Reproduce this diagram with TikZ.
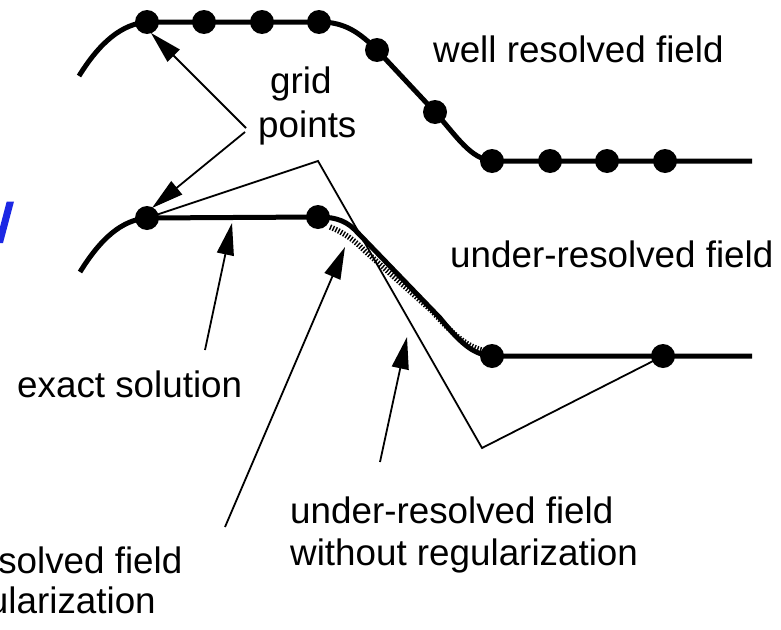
\documentclass[tikz,border=0pt]{standalone}
\usepackage{fontspec}
\setmainfont{Liberation Sans}
\usetikzlibrary{arrows.meta}
\definecolor{titleblue}{RGB}{28,40,228}
\begin{document}
\begin{tikzpicture}[x=1pt,y=-1pt,
  dot/.style={circle,fill=black,inner sep=0pt,minimum size=24pt},
  field/.style={line width=5pt,line join=round},
  thinline/.style={line width=1.8pt,line join=miter},
  hatched/.style={line width=5.5pt,dash pattern=on 1.4pt off 1.6pt},
  arr/.style={line width=1.8pt,-{Triangle[length=32pt,width=17pt]}},
  lbl/.style={inner sep=0pt,anchor=base west,font=\fontsize{36.8}{44}\selectfont}]
\useasboundingbox (0,0) rectangle (781,629);
\clip (0,0) rectangle (781,629);

% clipped blue glyph at the left edge
\fill[titleblue] (6.7,201.5) -- (14,201.5) -- (3,243) -- (0,243) -- (0,227) -- cycle;

% well resolved field
\draw[field] (79,76) .. controls (100,42) and (122,24) .. (147,22) -- (320,22)
  .. controls (345,22) and (360,33) .. (377,50) -- (435,112)
  .. controls (458,138) and (470,158) .. (492,161) -- (752,161);
\foreach \n/\x/\y in {t1/147/22,t2/204/22,t3/262/22,t4/319/22,t5/377/50,t6/435/112,
                      t7/492/161,t8/550/161,t9/607/161,t10/665/161}
  \node[dot] (\n) at (\x,\y) {};

% under-resolved field: thin polyline without regularization
\coordinate (p2) at (318,161);
\coordinate (p3) at (482,448);

% regularized (hatched) curve
\draw[hatched] (330,227) .. controls (345,233) and (355,241) .. (365,251) -- (432,311)
  .. controls (450,331) and (465,346) .. (482,350);
% under-resolved field, exact curve
\draw[field] (80,272) .. controls (101,238) and (122,220) .. (147,218) -- (318,217)
  .. controls (338,217) and (348,222) .. (358,233) -- (440,318)
  .. controls (458,340) and (472,355) .. (492,356) -- (752,356);

\node[dot] (b1) at (147,218) {};
\node[dot] (b2) at (318,217) {};
\node[dot] (b3) at (492,356) {};
\node[dot] (b4) at (663,356) {};

\draw[thinline] (b1.center) -- (p2) -- (p3) -- (b4.center);

% labels
\node[lbl] (well) at (433,62) {well resolved field};
\node[lbl] (under) at (450,267) {under-resolved field};
\node[lbl] (grid) at (270,93) {grid};
\node[lbl] (points) at (258,137) {points};
\node[lbl] (exact) at (17,397) {exact solution};
\node[lbl] (wo1) at (290,523) {under-resolved field};
\node[lbl] (wo2) at (290,565) {without regularization};
\node[lbl] (wr1) at (-141,573) {under-resolved field};
\node[lbl] (wr2) at (-141,613) {with regularization};

% arrows
\coordinate (ga) at (246,128);
\coordinate (gb) at (245,132);
\coordinate (gtip1) at (151,33);
\coordinate (gtip2) at (152,208);
\coordinate (ea) at (205,350);
\coordinate (etip) at (232,223);
\coordinate (ra) at (225,527);
\coordinate (rtip) at (345,247);
\coordinate (na) at (380,462);
\coordinate (ntip) at (407,337);
\draw[arr] (ga) -- (gtip1);
\draw[arr] (gb) -- (gtip2);
\draw[arr] (ea) -- (etip);
\draw[arr] (ra) -- (rtip);
\draw[arr] (na) -- (ntip);
\end{tikzpicture}
\end{document}
